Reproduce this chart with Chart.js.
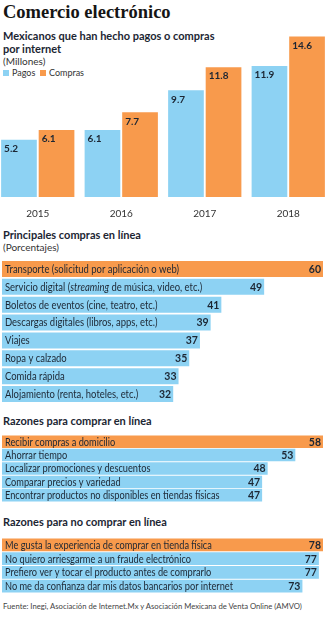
<!DOCTYPE html>
<html lang="es">
<head>
<meta charset="UTF-8">
<title>Comercio electrónico</title>
<script src="https://cdn.jsdelivr.net/npm/chart.js@4"></script>
<style>
  html, body {
    margin: 0;
    width: 326px;
    height: 620px;
    overflow: hidden;
    background: #fff;
    font-family: Lato, "Open Sans", sans-serif;
    color: #1c2633;
  }
  .abs { position: absolute; margin: 0; white-space: nowrap; }
  h1.abs { left: 3px; top: 0px; font: bold 18.5px/24px "Liberation Serif", serif; color: #151515; }
  .head { left: 3px; font-weight: bold; font-size: 11px; line-height: 13px; color: #1c2633; }
  .unit { left: 3px; font-size: 10px; line-height: 12px; color: #333; }
  .legend { left: 3px; top: 67px; font-size: 9px; line-height: 12px; color: #333; }
  .legend i { display: inline-block; width: 6px; height: 6px; margin-right: 3px; vertical-align: 0px; }
  .source { left: 3px; top: 601px; font-size: 7.7px; line-height: 10px; color: #444; }
  canvas { position: absolute; }
</style>
</head>
<body>
<h1 class="abs">Comercio electrónico</h1>
<div class="abs head" style="top:29px">Mexicanos que han hecho pagos o compras<br>por internet</div>
<div class="abs unit" style="top:55px">(Millones)</div>
<div class="abs legend"><i style="background:#8dd2f3"></i>Pagos &nbsp;<i style="background:#f89a4c"></i>Compras</div>

<div class="abs head" style="top:228px">Principales compras en línea</div>
<div class="abs unit" style="top:241px">(Porcentajes)</div>
<div class="abs head" style="top:414px">Razones para comprar en línea</div>
<div class="abs head" style="top:515px">Razones para no comprar en línea</div>
<div class="abs source">Fuente: Inegi, Asociación de Internet.Mx y Asociación Mexicana de Venta Online (AMVO)</div>

<canvas id="anual" width="334" height="191" style="left:-4px;top:32px"></canvas>
<canvas id="compras" width="321" height="143" style="left:2px;top:260px"></canvas>
<canvas id="razones" width="321" height="67" style="left:2px;top:435px"></canvas>
<canvas id="noRazones" width="321" height="55" style="left:2px;top:538px"></canvas>

<script>
const BLUE = "#8dd2f3";
const ORANGE = "#f89a4c";
const INK = "#1c2633";

// Mexicanos que han hecho pagos o compras por internet (millones)
const years = ["2015", "2016", "2017", "2018"];
const pagos = [5.2, 6.1, 9.7, 11.9];
const compras = [6.1, 7.7, 11.8, 14.6];

// Principales compras en línea (%). Text between _ is drawn in italics
const comprasCat = [
  "Transporte (solicitud por aplicación o web)",
  "Servicio digital (_streaming_ de música, video, etc.)",
  "Boletos de eventos (cine, teatro, etc.)",
  "Descargas digitales (libros, apps, etc.)",
  "Viajes",
  "Ropa y calzado",
  "Comida rápida",
  "Alojamiento (renta, hoteles, etc.)"
];
const comprasVal = [60, 49, 41, 39, 37, 35, 33, 32];

// Razones para comprar en línea (%)
const razonesCat = [
  "Recibir compras a domicilio",
  "Ahorrar tiempo",
  "Localizar promociones y descuentos",
  "Comparar precios y variedad",
  "Encontrar productos no disponibles en tiendas físicas"
];
const razonesVal = [58, 53, 48, 47, 47];

// Razones para no comprar en línea (%)
const noRazonesCat = [
  "Me gusta la experiencia de comprar en tienda física",
  "No quiero arriesgarme a un fraude electrónico",
  "Prefiero ver y tocar el producto antes de comprarlo",
  "No me da confianza dar mis datos bancarios por internet"
];
const noRazonesVal = [78, 77, 77, 73];

// value printed in the top-left corner of each column
const columnValues = {
  id: "columnValues",
  afterDatasetsDraw(chart) {
    const ctx = chart.ctx;
    ctx.save();
    ctx.font = "bold 10px Lato, sans-serif";
    ctx.fillStyle = INK;
    ctx.textBaseline = "top";
    ctx.textAlign = "left";
    chart.data.datasets.forEach((ds, di) => {
      chart.getDatasetMeta(di).data.forEach((bar, i) => {
        ctx.fillText(ds.data[i].toFixed(1), bar.x - bar.width / 2 + 3, bar.y + 4);
      });
    });
    ctx.restore();
  }
};

// category name on the left (slightly condensed), value on the right
const barText = {
  id: "barText",
  afterDatasetsDraw(chart) {
    const ctx = chart.ctx;
    const ds = chart.data.datasets[0];
    const { size, squeeze } = chart.options.plugins.barText;
    ctx.save();
    ctx.fillStyle = INK;
    ctx.textBaseline = "middle";
    chart.getDatasetMeta(0).data.forEach((bar, i) => {
      const y = bar.y + 0.5;
      ctx.save();
      ctx.translate(chart.chartArea.left + 3, 0);
      ctx.scale(squeeze, 1);
      ctx.textAlign = "left";
      let x = 0;
      chart.data.labels[i].split("_").forEach((part, k) => {
        ctx.font = (k % 2 ? "italic " : "") + size + "px Lato, sans-serif";
        ctx.fillText(part, x, y);
        x += ctx.measureText(part).width;
      });
      ctx.restore();
      ctx.font = "bold " + size + "px Lato, sans-serif";
      ctx.textAlign = "right";
      ctx.fillText(ds.data[i], bar.x - 2, y);
    });
    ctx.restore();
  }
};

new Chart(document.getElementById("anual"), {
  type: "bar",
  data: {
    labels: years,
    datasets: [
      { label: "Pagos", data: pagos, backgroundColor: BLUE },
      { label: "Compras", data: compras, backgroundColor: ORANGE }
    ]
  },
  options: {
    responsive: false,
    animation: false,
    categoryPercentage: 0.9,
    barPercentage: 0.95,
    layout: { padding: 0 },
    plugins: { legend: { display: false }, tooltip: { enabled: false } },
    scales: {
      x: {
        grid: { display: false },
        border: { display: false },
        ticks: { color: "#333", font: { family: "Lato", size: 10 }, padding: 3 }
      },
      y: { display: false, min: 0, max: 15 }
    }
  },
  plugins: [columnValues]
});

function horizontal(id, labels, values, max, thickness, size, squeeze) {
  return new Chart(document.getElementById(id), {
    type: "bar",
    data: {
      labels: labels,
      datasets: [{
        data: values,
        backgroundColor: values.map((v, i) => (i === 0 ? ORANGE : BLUE))
      }]
    },
    options: {
      indexAxis: "y",
      responsive: false,
      animation: false,
      categoryPercentage: 1,
      barPercentage: thickness,
      layout: { padding: 0 },
      plugins: {
        legend: { display: false },
        tooltip: { enabled: false },
        barText: { size: size, squeeze: squeeze }
      },
      scales: {
        x: { display: false, min: 0, max: max },
        y: { display: false }
      }
    },
    plugins: [barText]
  });
}

horizontal("compras", comprasCat, comprasVal, 60, 0.9, 10.5, 0.9);
horizontal("razones", razonesCat, razonesVal, 58, 0.93, 10.5, 0.88);
horizontal("noRazones", noRazonesCat, noRazonesVal, 78, 0.93, 10.5, 0.88);
</script>
</body>
</html>
